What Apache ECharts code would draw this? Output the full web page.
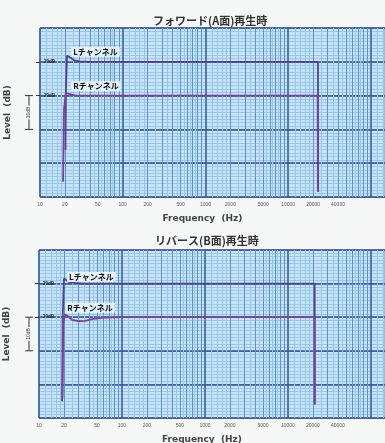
<!DOCTYPE html>
<html>
<head>
<meta charset="utf-8">
<script src="https://cdn.jsdelivr.net/npm/echarts@6/dist/echarts.min.js"></script>
<style>
	html, body { margin: 0; padding: 0; background: #f6f7f7; }
	#chart { width: 385px; height: 443px; }
</style>
</head>
<body>
<div id="chart"></div>
<script>
// 周波数目盛りラベル (Hz)
var freqTicks = [10, 20, 50, 100, 200, 500, 1000, 2000, 5000, 10000, 20000, 40000];

// フォワード(A面)再生時
var fwdLFreq = [20.3, 20.6, 21.2, 22, 23.5, 26, 30, 40, 100, 1000, 10000, 20000, 22900, 23000];
var fwdLLevel = [-26, -8, 1.8, 2.2, 1.2, 0.4, 0.1, 0, 0, 0, 0, 0, 0, -38.5];
var fwdRFreq = [19.0, 19.5, 20.5, 21.5, 23, 27, 35, 100, 1000, 10000, 22700, 22800, 22850];
var fwdRLevel = [-35.5, -14, -9.2, -9.0, -9.6, -10, -10, -10, -10, -10, -10, -10, -38];

// リバース(B面)再生時
var revLFreq = [19, 19.3, 20, 21, 23, 27, 35, 100, 1000, 10000, 21000, 21100];
var revLLevel = [-35, -10, 1.5, 1.2, 0.5, 0.2, 0, 0, 0, 0, 0, -36];
var revRFreq = [19.2, 19.6, 20.5, 22, 25, 30, 36, 45, 60, 100, 1000, 10000, 20900, 21000];
var revRLevel = [-34, -12, -9.2, -9.6, -10.8, -11.2, -11.1, -10.5, -10.1, -10, -10, -10, -10, -35.5];

(function()
{
	var xMin = 1, xMax = 5.17;
	var lColor = '#55408f', rColor = '#7e3f99';

	// 方眼紙の罫線 (対数)
	var paperMinor = [], paperMid = [], paperMajor = [];
	[10, 100, 1000, 10000, 100000].forEach(function(d)
	{
		paperMajor.push(Math.log10(d));
		[2, 3, 4, 5, 6, 7, 8, 9].forEach(function(m) { paperMid.push(Math.log10(m * d)); });
		[1.2, 1.4, 1.6, 1.8, 2.5, 3.5, 4.5, 5.5, 6.5, 7.5].forEach(function(m) { paperMinor.push(Math.log10(m * d)); });
	});
	function inRange(arr) { return arr.filter(function(v) { return v >= xMin && v <= xMax; }); }

	function pairs(freq, level)
	{
		return freq.map(function(f, i) { return [Math.log10(f), level[i]]; });
	}

	var grids =
	[
		{ left: 40, right: 0, top: 28, height: 169 },
		{ left: 39, right: 0, top: 250, height: 168 }
	];

	var xAxes = [], yAxes = [];
	grids.forEach(function(g, gi)
	{
		g.show = true;
		g.outerBoundsMode = 'none';
		g.containLabel = false;
		g.backgroundColor = '#c8e3f5';
		g.borderColor = '#5f95c8';
		g.borderWidth = 1;

		xAxes.push(
		{
			type: 'value', gridIndex: gi, min: xMin, max: xMax, position: 'bottom',
			name: 'Frequency  (Hz)', nameLocation: 'middle', nameGap: 17,
			nameTextStyle: { fontSize: 9, color: '#444', fontWeight: 'bold', fontFamily: 'DejaVu Sans', padding: [0, 0, 0, -20] },
			axisLine: { show: false },
			axisTick: { show: false, customValues: inRange(paperMinor) },
			axisLabel:
			{
				customValues: freqTicks.map(function(f) { return Math.log10(f); }),
				formatter: function(v) { return String(Math.round(Math.pow(10, v))); },
				fontSize: 5, color: '#555', margin: 5
			},
			splitLine: { show: true, lineStyle: { color: '#93c6ea', width: 1 } }
		});
		xAxes.push(
		{
			type: 'value', gridIndex: gi, min: xMin, max: xMax, position: 'bottom',
			axisLine: { show: false }, axisLabel: { show: false },
			axisTick: { show: false, customValues: inRange(paperMid) },
			splitLine: { show: true, lineStyle: { color: '#5d92c9', width: 1 } }
		});
		xAxes.push(
		{
			type: 'value', gridIndex: gi, min: xMin, max: xMax, position: 'bottom',
			axisLine: { show: false }, axisLabel: { show: false },
			axisTick: { show: false, customValues: inRange(paperMajor) },
			splitLine: { show: true, lineStyle: { color: '#2f5a9c', width: 1.5 } }
		});

		yAxes.push(
		{
			type: 'value', gridIndex: gi, min: -40, max: 10, interval: 5, position: 'left',
			axisLine: { show: false }, axisTick: { show: false }, axisLabel: { show: false },
			splitLine: { show: true, lineStyle: { color: '#6a9bd0', width: 1 } }
		});
		yAxes.push(
		{
			type: 'value', gridIndex: gi, min: -40, max: 10, interval: 10, position: 'left',
			name: 'Level  (dB)', nameLocation: 'middle', nameGap: 28, nameRotate: 90,
			nameTextStyle: { fontSize: 9, color: '#444', fontWeight: 'bold', fontFamily: 'DejaVu Sans' },
			axisLine: { show: false }, axisTick: { show: false }, axisLabel: { show: false },
			minorTick: { show: false, splitNumber: 10 },
			minorSplitLine: { show: true, lineStyle: { color: '#98c8ea', width: 1 } },
			splitLine: { show: true, lineStyle: { color: '#3a4f8e', width: 1.5 } }
		});
		yAxes.push(
		{
			type: 'value', gridIndex: gi, min: -40, max: 10, position: 'left',
			axisLine: { show: false },
			axisTick: { show: true, customValues: [0, -10], length: 4, lineStyle: { color: '#333' } },
			axisLabel:
			{
				customValues: [0, -10], inside: true, margin: 4,
				formatter: function() { return '20dB'; },
				fontSize: 4.5, color: '#222', fontWeight: 'bold'
			},
			splitLine: { show: false }
		});
	});

	function chLabel(text, fx, db)
	{
		return {
			symbol: 'circle', symbolSize: 1, silent: true,
			itemStyle: { color: 'rgba(0,0,0,0)' },
			label:
			{
				show: true, position: 'right', distance: 0, formatter: text,
				fontSize: 8, fontWeight: 'bold', color: '#111', fontFamily: 'Noto Sans CJK JP',
				backgroundColor: 'rgba(235,244,250,0.9)', padding: [1, 2]
			},
			data: [{ coord: [Math.log10(fx), db] }]
		};
	}

	function line(freq, level, gi, color, mark)
	{
		return {
			type: 'line', xAxisIndex: gi * 3, yAxisIndex: gi * 3 + 1,
			data: pairs(freq, level), showSymbol: false, animation: false,
			lineStyle: { color: color, width: 1.8 },
			markPoint: mark
		};
	}

	var chart = echarts.init(document.getElementById('chart'));
	chart.setOption(
	{
		backgroundColor: '#f6f7f7',
		animation: false,
		title:
		[
			{ text: 'フォワード(A面)再生時', left: 148, top: 10, textStyle: { fontSize: 11, fontWeight: 'bold', color: '#333', fontFamily: 'Noto Sans CJK JP' } },
			{ text: 'リバース(B面)再生時', left: 150, top: 230, textStyle: { fontSize: 11, fontWeight: 'bold', color: '#333', fontFamily: 'Noto Sans CJK JP' } }
		],
		grid: grids,
		xAxis: xAxes,
		yAxis: yAxes,
		series:
		[
			line(fwdLFreq, fwdLLevel, 0, lColor, chLabel('Lチャンネル', 23.5, 3)),
			line(fwdRFreq, fwdRLevel, 0, rColor, chLabel('Rチャンネル', 23.5, -7.2)),
			line(revLFreq, revLLevel, 1, lColor, chLabel('Lチャンネル', 21.5, 2)),
			line(revRFreq, revRLevel, 1, rColor, chLabel('Rチャンネル', 20.5, -7.2))
		]
	});

	// 10dB スケール表示
	var graphics = [];
	[1, 4].forEach(function(yi)
	{
		var y1 = chart.convertToPixel({ yAxisIndex: yi }, -10);
		var y2 = chart.convertToPixel({ yAxisIndex: yi }, -20);
		var x = 29;
		graphics.push({ type: 'line', shape: { x1: x, y1: y1, x2: x, y2: y2 }, style: { stroke: '#333', lineWidth: 1 } });
		graphics.push({ type: 'line', shape: { x1: x - 4, y1: y1, x2: x + 4, y2: y1 }, style: { stroke: '#333', lineWidth: 1 } });
		graphics.push({ type: 'line', shape: { x1: x - 4, y1: y2, x2: x + 4, y2: y2 }, style: { stroke: '#333', lineWidth: 1 } });
		graphics.push(
		{
			type: 'text', x: x, y: (y1 + y2) / 2, rotation: Math.PI / 2,
			style: { text: '10dB', fontSize: 5, fill: '#333', align: 'center', verticalAlign: 'middle', backgroundColor: '#f6f7f7', padding: [1, 1] }
		});
	});
	chart.setOption({ graphic: graphics });
})();
</script>
</body>
</html>
